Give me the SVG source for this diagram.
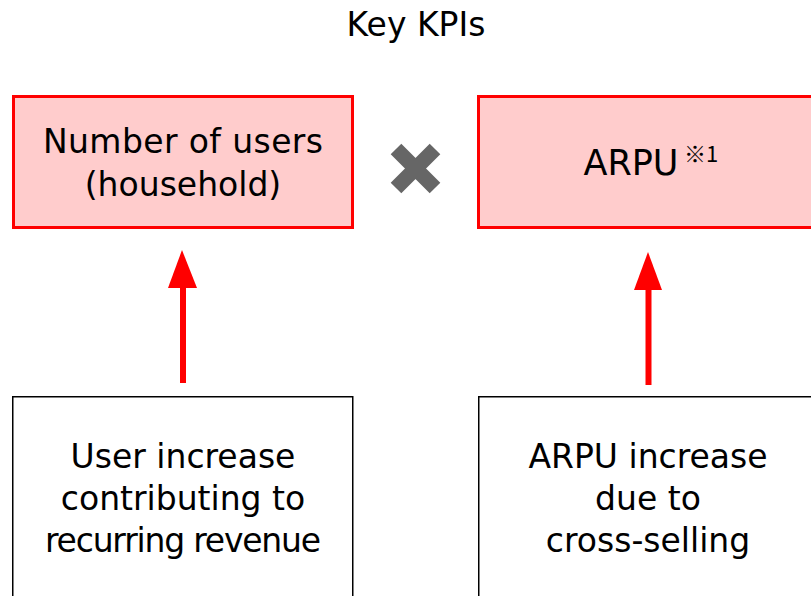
<svg xmlns="http://www.w3.org/2000/svg" width="811" height="596" viewBox="0 0 811 596">
  <style>
    text { font-family: "DejaVu Sans", "Noto Sans CJK JP", sans-serif; fill: #000; text-anchor: middle; }
    .lbl { font-size: 33px; }
    .big { font-size: 35px; }
    .sup { font-size: 22px; text-anchor: start; font-family: "Noto Sans CJK JP", "DejaVu Sans", sans-serif; }
    .kpi { fill: #ffcccc; stroke: #ff0000; stroke-width: 3; }
    .driver { fill: #ffffff; stroke: #000000; stroke-width: 1.5; }
    .arrow { stroke: #ff0000; stroke-width: 6; fill: none; }
    .head { fill: #ff0000; }
  </style>

  <rect width="811" height="596" fill="#ffffff"/>

  <text id="title" class="lbl" x="416" y="36">Key KPIs</text>

  <g id="kpi-users">
    <rect class="kpi" x="13.5" y="96.5" width="339" height="131"/>
    <text class="lbl" x="183" y="153" textLength="280">Number of users</text>
    <text class="lbl" x="183" y="196">(household)</text>
  </g>

  <g id="multiply">
    <path d="M396 149 L435 188 M435 149 L396 188" stroke="#666666" stroke-width="15" fill="none"/>
  </g>

  <g id="kpi-arpu">
    <rect class="kpi" x="478.5" y="96.5" width="340" height="131"/>
    <text class="big" x="631" y="175">ARPU</text>
    <text class="sup" x="684" y="162">※1</text>
  </g>

  <g id="driver-users">
    <rect class="driver" x="12.75" y="396.75" width="340" height="210"/>
    <text class="lbl" x="183" y="468">User increase</text>
    <text class="lbl" x="183" y="510">contributing to</text>
    <text class="lbl" x="183" y="552" textLength="276">recurring revenue</text>
  </g>

  <g id="driver-arpu">
    <rect class="driver" x="478.75" y="396.75" width="340" height="210"/>
    <text class="lbl" x="648" y="468">ARPU increase</text>
    <text class="lbl" x="648" y="510">due to</text>
    <text class="lbl" x="648" y="552">cross-selling</text>
  </g>

  <g id="connectors">
    <line class="arrow" x1="183" y1="383" x2="183" y2="286"/>
    <polygon class="head" points="182,250 197,288 168,288"/>
    <line class="arrow" x1="648.5" y1="385" x2="648.5" y2="288"/>
    <polygon class="head" points="648,252 662,290 634,290"/>
  </g>
</svg>
